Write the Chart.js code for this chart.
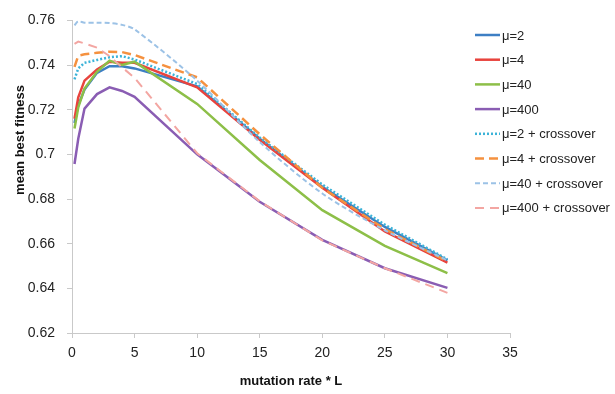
<!DOCTYPE html>
<html>
<head>
<meta charset="utf-8">
<script src="https://cdn.jsdelivr.net/npm/chart.js@4"></script>
<style>
html,body{margin:0;padding:0;background:#fff;}
#wrap{position:relative;width:615px;height:394px;}
</style>
</head>
<body>
<div id="wrap"><canvas id="c" width="615" height="394"></canvas></div>
<script>
const xValues = [0.2, 0.5, 1, 2, 3, 4, 5, 10, 15, 20, 25, 30];
const seriesNames = ["μ=2", "μ=4", "μ=40", "μ=400", "μ=2 + crossover", "μ=4 + crossover", "μ=40 + crossover", "μ=400 + crossover"];
const mu2    = [0.714, 0.722, 0.729, 0.7365, 0.7395, 0.7395, 0.7385, 0.7305, 0.707, 0.6855, 0.6675, 0.6525];
const mu4    = [0.716, 0.7255, 0.733, 0.738, 0.7415, 0.741, 0.741, 0.730, 0.7065, 0.685, 0.6655, 0.6515];
const mu40   = [0.7116, 0.721, 0.7295, 0.737, 0.742, 0.740, 0.7415, 0.7226, 0.6975, 0.675, 0.659, 0.6468];
const mu400  = [0.6957, 0.707, 0.7205, 0.727, 0.730, 0.7284, 0.7258, 0.700, 0.6788, 0.6617, 0.649, 0.6402];
const mu2x   = [0.7336, 0.7385, 0.741, 0.7423, 0.7435, 0.744, 0.7425, 0.7315, 0.7075, 0.6865, 0.6685, 0.653];
const mu4x   = [0.7392, 0.7442, 0.7448, 0.7455, 0.746, 0.7458, 0.7445, 0.7345, 0.709, 0.685, 0.6665, 0.652];
const mu40x  = [0.7578, 0.7596, 0.759, 0.759, 0.7588, 0.758, 0.756, 0.733, 0.7055, 0.6825, 0.666, 0.6525];
const mu400x = [0.7495, 0.7505, 0.7497, 0.7478, 0.744, 0.739, 0.7343, 0.7005, 0.679, 0.6615, 0.649, 0.638];
const yTicks = [0.62, 0.64, 0.66, 0.68, 0.70, 0.72, 0.74, 0.76];
const xTicks = [0, 5, 10, 15, 20, 25, 30, 35];

const values = [mu2, mu4, mu40, mu400, mu2x, mu4x, mu40x, mu400x];
const colors = ["#3d7fc4", "#e8433d", "#8dbf48", "#8a5db3", "#3cb3d8", "#f5913f", "#9cc2e6", "#f3a6a2"];
const dashes = [[], [], [], [], [2, 2], [9, 5], [5, 3], [9, 6]];
const widths = [2.5, 2.5, 2.5, 2.5, 2.5, 2.5, 2, 2];
const tensions = [0, 0, 0, 0, 0, 0, 0.3, 0];

const datasets = values.map((v, i) => ({
  label: seriesNames[i],
  data: v.map((y, j) => ({x: xValues[j], y: y})),
  borderColor: colors[i],
  backgroundColor: colors[i],
  borderWidth: widths[i],
  borderDash: dashes[i],
  tension: tensions[i],
  pointRadius: 0,
  fill: false,
  order: 8 - i
}));

const FONT = "'Liberation Sans', Arial, sans-serif";

const extras = {
  id: 'extras',
  afterDraw(chart) {
    const ctx = chart.ctx;
    ctx.save();
    // y-axis title
    ctx.translate(20, 140);
    ctx.rotate(-Math.PI / 2);
    ctx.font = "bold 13px " + FONT;
    ctx.fillStyle = "#111";
    ctx.textAlign = "center";
    ctx.textBaseline = "middle";
    ctx.fillText("mean best fitness", 0, 0);
    ctx.restore();
    // legend
    ctx.save();
    ctx.font = "13px " + FONT;
    ctx.textAlign = "left";
    ctx.textBaseline = "middle";
    chart.data.datasets.forEach((ds, i) => {
      const y = 35 + i * 24.7;
      ctx.beginPath();
      ctx.strokeStyle = ds.borderColor;
      ctx.lineWidth = ds.borderWidth;
      ctx.setLineDash(ds.borderDash);
      ctx.moveTo(475, y);
      ctx.lineTo(500, y);
      ctx.stroke();
      ctx.setLineDash([]);
      ctx.fillStyle = "#222";
      ctx.fillText(ds.label, 502, y + 1);
    });
    ctx.restore();
  }
};

new Chart(document.getElementById('c'), {
  type: 'line',
  data: { datasets },
  options: {
    responsive: false,
    animation: false,
    layout: { padding: { left: 0, right: 105, top: 15, bottom: 0 } },
    plugins: { legend: { display: false }, tooltip: { enabled: false } },
    scales: {
      x: {
        type: 'linear',
        min: 0, max: 35,
        afterBuildTicks: s => { s.ticks = xTicks.map(v => ({value: v})); },
        afterFit: s => { s.height = 61; },
        border: { color: '#c9c9c9', width: 1 },
        grid: { display: true, drawOnChartArea: false, tickLength: 5, color: '#c9c9c9' },
        ticks: { color: '#222', font: { family: FONT, size: 14 }, padding: 7, maxRotation: 0 },
        title: { display: true, text: 'mutation rate * L', color: '#111', font: { family: FONT, size: 13, weight: 'bold' }, padding: { top: 0, bottom: 5 } }
      },
      y: {
        min: 0.62, max: 0.76,
        afterBuildTicks: s => { s.ticks = yTicks.map(v => ({value: v})); },
        afterFit: s => { s.width = 72; },
        border: { color: '#c9c9c9', width: 1 },
        grid: { display: true, drawOnChartArea: false, tickLength: 5, color: '#c9c9c9' },
        ticks: { color: '#222', font: { family: FONT, size: 14 }, padding: 12,
          callback: v => String(Number(v.toFixed(2))) }
      }
    }
  },
  plugins: [extras]
});
</script>
</body>
</html>
